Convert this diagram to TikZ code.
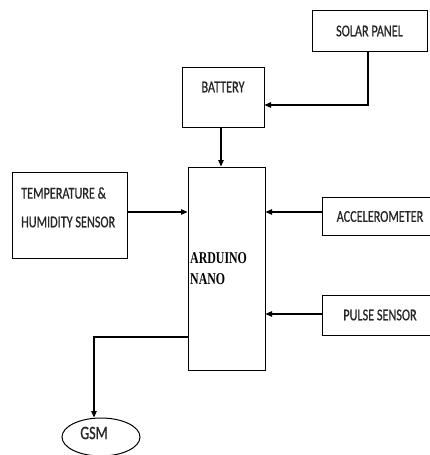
\documentclass[tikz,border=0pt]{standalone}
\usepackage{fontspec}
\setmainfont{Carlito}[FakeStretch=0.74, FakeBold=0.6]
\newfontfamily\ardfont{Liberation Serif}[FakeStretch=0.72]
\usetikzlibrary{arrows.meta,shapes.geometric}
\begin{document}
\begin{tikzpicture}[x=1pt,y=-1pt,
  box/.style={draw, line width=1pt, inner sep=0pt},
  lbl/.style={inner sep=0pt, text=black!85, font=\fontsize{16.5}{20}\selectfont},
  conn/.style={line width=1.2pt},
  arr/.style={conn, -{Triangle[length=6.5pt,width=5.5pt]}}]
\fill[white] (0,0) rectangle (430,455);
\useasboundingbox (0,0) rectangle (430,455);
% boxes
\node[box, minimum width=115pt, minimum height=41pt] (solar) at (369.5,30.5) {};
\node[box, minimum width=82pt, minimum height=60pt] (battery) at (223,97) {};
\node[box, minimum width=77pt, minimum height=203pt] (ard) at (226.5,268.5) {};
\node[box, minimum width=115pt, minimum height=86pt] (temp) at (69.5,215) {};
\node[box, minimum width=112pt, minimum height=38pt] (accel) at (378,216) {};
\node[box, minimum width=112pt, minimum height=40pt] (pulse) at (378,315) {};
\node[draw, line width=1pt, ellipse, minimum width=78pt, minimum height=38pt, inner sep=0pt] (gsm) at (101,437) {};
% labels
\node[lbl] (tsolar) at (369.5,31) {SOLAR PANEL};
\node[lbl] (tbatt) at (223,87) {BATTERY};
\node[lbl, anchor=west] (ttemp1) at (21,193) {TEMPERATURE \&};
\node[lbl, anchor=west] (ttemp2) at (21,222) {HUMIDITY SENSOR};
\node[lbl] (taccel) at (380,216.5) {ACCELEROMETER};
\node[lbl] (tpulse) at (380,315) {PULSE SENSOR};
\node[lbl, font=\fontsize{19}{22}\selectfont] (tgsm) at (94,433) {GSM};
\node[inner sep=0pt, anchor=west, font=\ardfont\bfseries\fontsize{16.5}{20}\selectfont] (tard1) at (190,258) {ARDUINO};
\node[inner sep=0pt, anchor=west, font=\ardfont\bfseries\fontsize{16.5}{20}\selectfont] (tard2) at (190,279.5) {NANO};
% connectors
\coordinate (jb) at (368,105);
\draw[arr] (solar.south -| jb) -- (jb) -- (battery.east |- jb);
\coordinate (ba) at (221,0);
\draw[arr] (battery.south -| ba) -- (ard.north -| ba);
\coordinate (tt) at (0,212);
\draw[arr] (temp.east |- tt) -- (ard.west |- tt);
\draw[arr] (accel.west |- tt) -- (ard.east |- tt);
\coordinate (pp) at (0,314);
\draw[arr] (pulse.west |- pp) -- (ard.east |- pp);
\coordinate (gg) at (94,337);
\draw[arr] (ard.west |- gg) -- (gg) -- (gg |- gsm.north);
\end{tikzpicture}
\end{document}
